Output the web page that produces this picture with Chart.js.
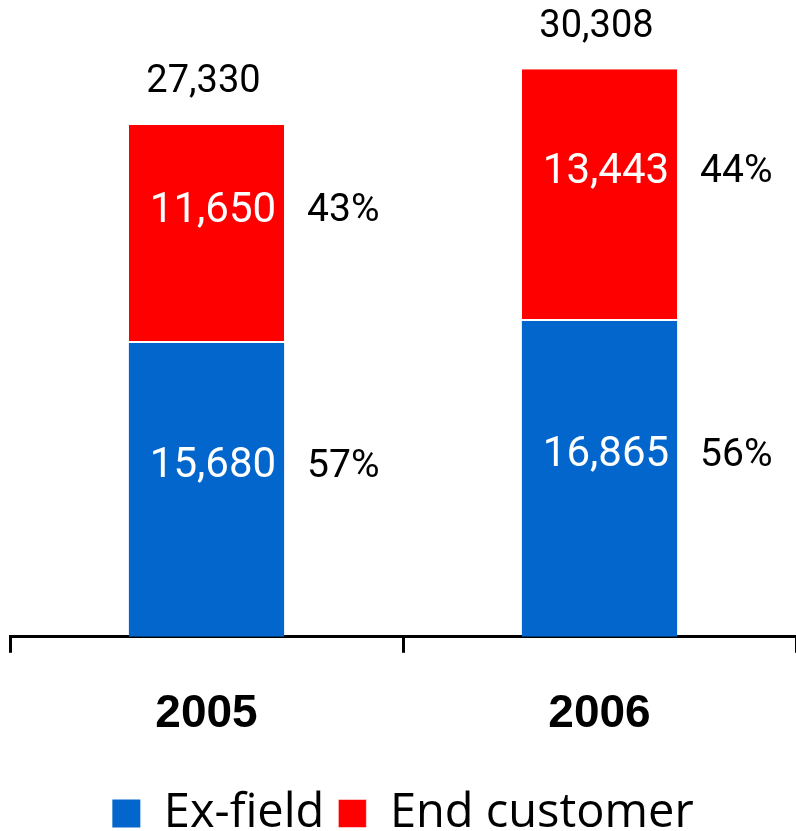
<!DOCTYPE html>
<html>
<head>
<meta charset="utf-8">
<script src="https://cdn.jsdelivr.net/npm/chart.js@4/dist/chart.umd.min.js"></script>
<style>
  html, body { margin: 0; padding: 0; background: #fff; }
  canvas { display: block; }
</style>
</head>
<body>
<canvas id="chStack" width="796" height="831"></canvas>
<script>
// data
var years = ['2005', '2006'];
var exField = [15680, 16865];
var endCustomer = [11650, 13443];
var seriesNames = ['Ex-field', 'End customer'];

// chart colors
var colors = ['#0366CC', '#FF0000'];

function fmt(n) {
    return n.toLocaleString('en-US');
}

// value, percent and total labels
var barLabels = {
    id: 'barLabels',
    afterDatasetsDraw: function (chart) {
        var ctx = chart.ctx;
        var totals = years.map(function (y, i) { return exField[i] + endCustomer[i]; });
        ctx.save();
        ctx.textBaseline = 'middle';
        chart.data.datasets.forEach(function (ds, di) {
            var meta = chart.getDatasetMeta(di);
            meta.data.forEach(function (el, i) {
                var v = ds.data[i];
                var cy = (el.y + el.base) / 2 - 23;
                var right = el.x + el.width / 2;
                ctx.fillStyle = '#fff';
                ctx.font = '42px Roboto';
                ctx.textAlign = 'right';
                ctx.fillText(fmt(v), right - 8, cy);
                ctx.fillStyle = '#000';
                ctx.font = '39px Roboto';
                ctx.textAlign = 'left';
                ctx.fillText(Math.round(v / totals[i] * 100) + '%', right + 23, cy);
                if (di === chart.data.datasets.length - 1) {
                    ctx.font = '38px Roboto';
                    ctx.textAlign = 'center';
                    ctx.fillText(fmt(totals[i]), el.x - 3, el.y - 42);
                }
            });
        });
        ctx.restore();
    }
};

window.onload = function () {
    new Chart(document.getElementById('chStack'), {
        type: 'bar',
        data: {
            labels: years,
            datasets: [{
                label: seriesNames[0],
                data: exField,
                backgroundColor: colors[0],
                borderWidth: 0
            }, {
                label: seriesNames[1],
                data: endCustomer,
                backgroundColor: colors[1],
                borderColor: '#fff',
                borderSkipped: false,
                borderWidth: { top: 0, left: 0, right: 0, bottom: 2 }
            }]
        },
        options: {
            responsive: false,
            animation: false,
            devicePixelRatio: 1,
            layout: { padding: { left: 10, right: 0, top: 0, bottom: -16 } },
            datasets: { bar: { categoryPercentage: 1, barPercentage: 0.395 } },
            scales: {
                x: {
                    stacked: true,
                    grid: { offset: true, drawOnChartArea: false, drawTicks: true, tickLength: 16, lineWidth: 3, color: '#000' },
                    border: { display: true, width: 3, color: '#000' },
                    ticks: { color: '#000', padding: 34, font: { family: 'Liberation Sans', size: 46, weight: 'bold' } }
                },
                y: {
                    stacked: true,
                    display: false,
                    min: 0,
                    max: 34000
                }
            },
            plugins: {
                tooltip: { enabled: false },
                legend: {
                    position: 'bottom',
                    labels: {
                        color: '#000',
                        boxWidth: 28,
                        boxHeight: 28,
                        padding: 14,
                        font: { family: 'Open Sans', size: 47 }
                    }
                }
            }
        },
        plugins: [barLabels]
    });
};
</script>
</body>
</html>
